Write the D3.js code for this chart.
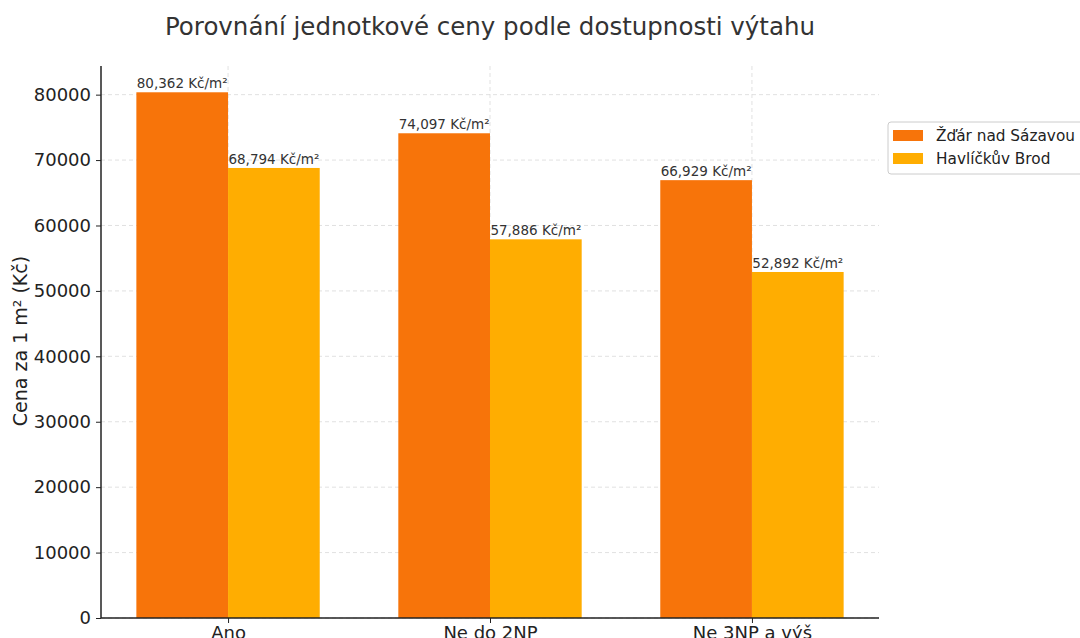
<!DOCTYPE html>
<html>
<head>
<meta charset="utf-8">
<script src="https://cdn.jsdelivr.net/npm/d3@7"></script>
<style>
  body { margin: 0; background: #fff; }
  svg { font-family: "DejaVu Sans", sans-serif; }
</style>
</head>
<body>
<svg width="1080" height="638"></svg>
<script>
const categories = ['Ano', 'Ne do 2NP', 'Ne 3NP a výš'];
const seriesNames = ['Žďár nad Sázavou', 'Havlíčkův Brod'];
const zdarValues = [80362, 74097, 66929];
const brodValues = [68794, 57886, 52892];
const yTicks = [0, 10000, 20000, 30000, 40000, 50000, 60000, 70000, 80000];
const colors = ['#f7740a', '#ffad01'];

const svg = d3.select('svg');
const plotLeft = 101, plotRight = 879, plotTop = 66, plotBottom = 618;

// bars sit at i-0.175 and i+0.175, width 0.35 (matplotlib style)
const x = d3.scaleLinear().domain([-0.485, 2.485]).range([plotLeft, plotRight]);
const y = d3.scaleLinear().domain([0, 84380]).range([plotBottom, plotTop]);

const g = svg.append('g');

// grid
g.selectAll('.hgrid').data(yTicks).enter().append('line')
  .attr('x1', plotLeft).attr('x2', plotRight)
  .attr('y1', d => y(d)).attr('y2', d => y(d))
  .attr('stroke', '#d9d9d9').attr('stroke-dasharray', '4,3').attr('stroke-width', 0.8);
g.selectAll('.vgrid').data(categories).enter().append('line')
  .attr('x1', (d, i) => x(i)).attr('x2', (d, i) => x(i))
  .attr('y1', plotTop).attr('y2', plotBottom)
  .attr('stroke', '#d9d9d9').attr('stroke-dasharray', '4,3').attr('stroke-width', 0.8);

const w = 0.35;
const bars = [];
categories.forEach((c, i) => {
  bars.push({ i, s: 0, v: zdarValues[i], off: -w / 2 });
  bars.push({ i, s: 1, v: brodValues[i], off: w / 2 });
});

g.selectAll('rect').data(bars).enter().append('rect')
  .attr('x', d => x(d.i + d.off - w / 2))
  .attr('width', d => x(d.i + d.off + w / 2) - x(d.i + d.off - w / 2))
  .attr('y', d => y(d.v))
  .attr('height', d => y(0) - y(d.v))
  .attr('fill', d => colors[d.s]);

g.selectAll('.val').data(bars).enter().append('text')
  .attr('x', d => x(d.i + d.off))
  .attr('y', d => y(d.v) - 4)
  .attr('text-anchor', 'middle')
  .attr('font-size', 13.5)
  .attr('fill', '#333')
  .text(d => d3.format(',')(d.v) + ' Kč/m²');

// axes
const yAxis = d3.axisLeft(y).tickValues(yTicks).tickFormat(d3.format('d')).tickSize(5).tickPadding(5);
const ya = svg.append('g').attr('transform', `translate(${plotLeft},0)`).call(yAxis);
ya.select('.domain').attr('d', `M0,${plotTop}V${plotBottom}`).attr('stroke', '#222').attr('stroke-width', 1.5);
ya.selectAll('text').attr('font-size', 18).attr('fill', '#222').attr('font-family', '"DejaVu Sans", sans-serif');
ya.selectAll('line').attr('stroke', '#222');

const xAxis = d3.axisBottom(x).tickValues([0, 1, 2]).tickFormat(i => categories[i]).tickSize(5).tickPadding(3);
const xa = svg.append('g').attr('transform', `translate(0,${plotBottom})`).call(xAxis);
xa.select('.domain').attr('d', `M${plotLeft},0H${plotRight}`).attr('stroke', '#222').attr('stroke-width', 1.5);
xa.selectAll('text').attr('font-size', 18).attr('fill', '#222').attr('font-family', '"DejaVu Sans", sans-serif');
xa.selectAll('line').attr('stroke', '#222');

// labels
svg.append('text')
  .attr('x', 490).attr('y', 35)
  .attr('text-anchor', 'middle')
  .attr('font-size', 24.5)
  .attr('fill', '#333')
  .text('Porovnání jednotkové ceny podle dostupnosti výtahu');

svg.append('text')
  .attr('transform', `translate(27,341) rotate(-90)`)
  .attr('text-anchor', 'middle')
  .attr('font-size', 19)
  .attr('fill', '#222')
  .text('Cena za 1 m² (Kč)');

// legend
const lg = svg.append('g').attr('transform', 'translate(888,122)');
lg.append('rect').attr('width', 200).attr('height', 52).attr('rx', 3)
  .attr('fill', '#fff').attr('stroke', '#ccc');
seriesNames.forEach((n, k) => {
  lg.append('rect').attr('x', 5).attr('y', 8 + k * 23).attr('width', 30).attr('height', 11).attr('fill', colors[k]);
  lg.append('text').attr('x', 48).attr('y', 19 + k * 23).attr('font-size', 15.3).attr('fill', '#222').text(n);
});
</script>
</body>
</html>
